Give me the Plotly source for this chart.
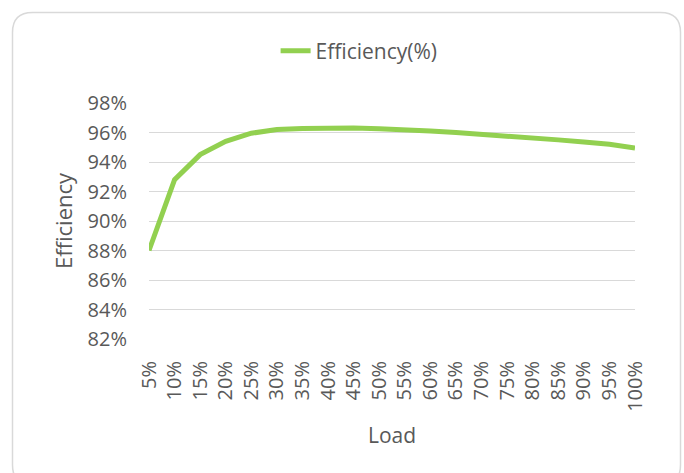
import plotly.graph_objects as go

load_labels = ["5%", "10%", "15%", "20%", "25%", "30%", "35%", "40%", "45%", "50%",
               "55%", "60%", "65%", "70%", "75%", "80%", "85%", "90%", "95%", "100%"]
efficiency = [88.0, 92.8, 94.5, 95.4, 95.95, 96.2, 96.27, 96.31, 96.3, 96.25,
              96.2, 96.1, 96.0, 95.88, 95.8, 95.64, 95.5, 95.35, 95.2, 94.95]
y_ticks = [82, 84, 86, 88, 90, 92, 94, 96, 98]
y_tick_labels = ["82%", "84%", "86%", "88%", "90%", "92%", "94%", "96%", "98%"]

W, H = 684, 473
L, R, T, B = 149, 49, 103, 134
pw, ph = W - L - R, H - T - B
FONT = "Open Sans"
TXT = "#595959"


def px(x):
    return (x - L) / pw


def py(y):
    return (H - B - y) / ph


# rounded frame
x0, y0, x1, y1, r = 12.5, 12.5, 680.5, 485, 20
path = (f"M {px(x0 + r)} {py(y0)} L {px(x1 - r)} {py(y0)} "
        f"Q {px(x1)} {py(y0)} {px(x1)} {py(y0 + r)} "
        f"L {px(x1)} {py(y1 - r)} Q {px(x1)} {py(y1)} {px(x1 - r)} {py(y1)} "
        f"L {px(x0 + r)} {py(y1)} Q {px(x0)} {py(y1)} {px(x0)} {py(y1 - r)} "
        f"L {px(x0)} {py(y0 + r)} Q {px(x0)} {py(y0)} {px(x0 + r)} {py(y0)} Z")

fig = go.Figure()
fig.add_trace(go.Scatter(
    x=load_labels, y=efficiency, mode="lines", name="Efficiency(%)",
    line=dict(color="#92D050", width=5), showlegend=True,
))

fig.update_layout(
    width=W, height=H,
    margin=dict(l=L, r=R, t=T, b=B),
    paper_bgcolor="white", plot_bgcolor="white",
    font=dict(family=FONT, size=20, color=TXT),
    showlegend=True,
    legend=dict(orientation="h", xref="container", yref="container",
                x=0.525, xanchor="center", y=1 - 51 / H, yanchor="middle",
                font=dict(family=FONT, size=21, color=TXT),
                bgcolor="rgba(0,0,0,0)"),
    xaxis=dict(type="category", range=[0, len(load_labels) - 1],
               tickangle=-90, showgrid=False, zeroline=False,
               showline=False, ticks="", ticklabelstandoff=17,
               tickfont=dict(family=FONT, size=20, color=TXT)),
    yaxis=dict(range=[82, 98], tickmode="array", tickvals=y_ticks,
               ticktext=y_tick_labels,
               showgrid=True, gridcolor="#d9d9d9", gridwidth=1,
               zeroline=False, showline=False, ticks="",
               ticklabelstandoff=21,
               tickfont=dict(family=FONT, size=20, color=TXT)),
    shapes=[dict(type="path", xref="paper", yref="paper", path=path,
                 line=dict(color="#d9d9d9", width=1.5), fillcolor="rgba(0,0,0,0)",
                 layer="below")],
    annotations=[
        dict(text="Load", xref="paper", yref="paper", x=0.5, y=0,
             xanchor="center", yanchor="middle",
             yshift=-(435 - (H - B)), showarrow=False,
             font=dict(family=FONT, size=21, color=TXT)),
        dict(text="Efficiency", xref="paper", yref="paper", x=0, y=0.5,
             xanchor="center", yanchor="middle",
             xshift=-(L - 63), textangle=-90, showarrow=False,
             font=dict(family=FONT, size=22, color=TXT)),
    ],
)

fig.write_html("out.html", config={"displayModeBar": False},
               post_script="document.body.style.margin='0';document.body.style.overflow='hidden';")
